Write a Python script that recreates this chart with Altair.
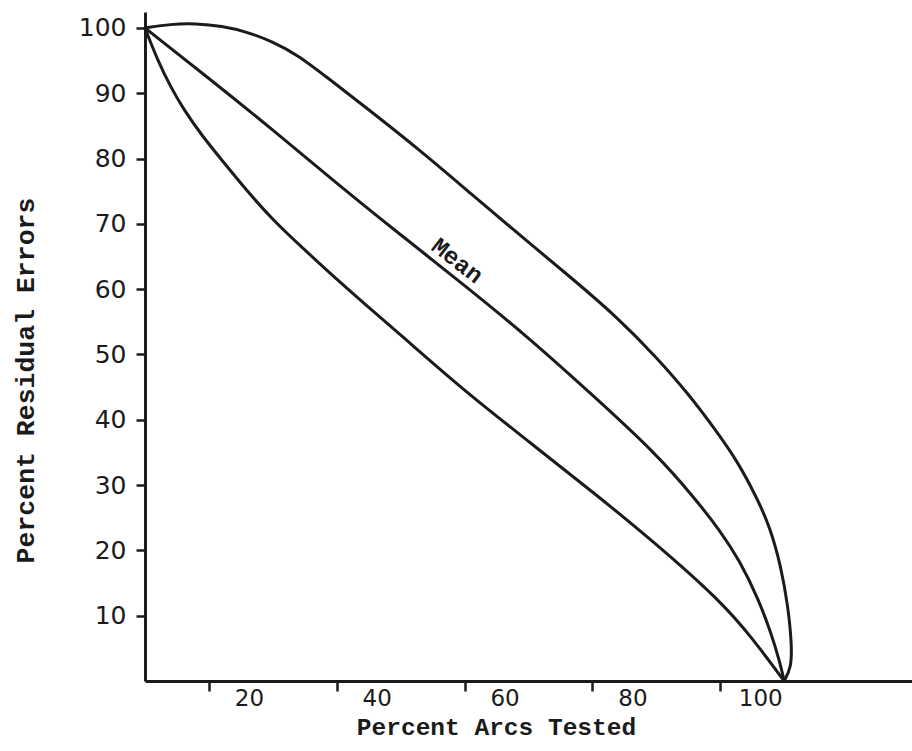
import altair as alt
import pandas as pd

# ---- data ----
x_tick_values = [10, 30, 50, 70, 90]
y_tick_values = [10, 20, 30, 40, 50, 60, 70, 80, 90, 100]

upper_x = [0, 4, 8, 12, 16, 20, 24, 28, 35, 43.5, 51, 59, 67, 74, 80, 85, 89, 92.6, 95.5, 97.8, 99.5, 100.6, 101.2, 101.1, 100]
upper_y = [100, 100.6, 100.7, 100.3, 99.4, 97.9, 95.8, 92.8, 87.5, 80.9, 74.6, 68.0, 61.5, 55.6, 49.6, 44.0, 38.8, 33.8, 28.5, 23.6, 17.5, 11.5, 5.5, 2.0, 0]

mean_x = [0, 10, 20, 30, 40, 50, 60, 70, 80, 86, 90, 93, 96, 98, 99.3, 100]
mean_y = [100, 92.3, 84.4, 76.2, 68.3, 60.6, 52.6, 43.8, 34.8, 28.0, 23.0, 18.5, 12.5, 7.2, 3.0, 0]

lower_x = [0, 2, 4, 6, 9, 12, 16, 20, 25, 30, 35, 40, 50, 60, 70, 80, 90, 95, 100]
lower_y = [100, 95.0, 91.0, 87.6, 83.4, 79.8, 75.0, 70.6, 66.0, 61.5, 57.2, 53.0, 44.4, 36.7, 29.0, 21.0, 12.3, 6.6, 0]

label_text = ["Mean"]
label_x = [48.8]
label_y = [64.3]

rows = []
for name, xs, ys in [("upper", upper_x, upper_y), ("mean", mean_x, mean_y), ("lower", lower_x, lower_y)]:
    for i, (a, b) in enumerate(zip(xs, ys)):
        rows.append({"series": name, "order": i, "x": a, "y": b})
df = pd.DataFrame(rows)
labels = pd.DataFrame({"text": label_text, "x": label_x, "y": label_y})

INK = "#1b1b1b"
MONO = "Liberation Mono"
SANS = "DejaVu Sans"

x_scale = alt.Scale(domain=[0, 120], nice=False, zero=False)
y_scale = alt.Scale(domain=[0, 102.45], nice=False, zero=False)

x_axis = alt.Axis(
    values=x_tick_values,
    labelExpr="'' + (datum.value + 10)",
    labelOffset=40,
    labelPadding=-4,
    labelFont=SANS,
    labelFontSize=23,
    labelColor=INK,
    tickSize=10,
    tickWidth=2.5,
    tickColor=INK,
    domainColor=INK,
    domainWidth=3,
    grid=False,
    title="Percent Arcs Tested",
    titleFont=MONO,
    titleFontSize=24.5,
    titleFontWeight="bold",
    titleColor=INK,
    titleX=351,
    titleY=53,
    titleBaseline="alphabetic",
)

y_axis = alt.Axis(
    values=y_tick_values,
    labelFont=SANS,
    labelFontSize=25,
    labelColor=INK,
    labelPadding=10,
    tickSize=9,
    tickWidth=2.5,
    tickColor=INK,
    domainColor=INK,
    domainWidth=3,
    grid=False,
    title="Percent Residual Errors",
    titleFont=MONO,
    titleFontSize=26.5,
    titleFontWeight="bold",
    titleColor=INK,
    titleAngle=270,
    titleX=-112,
    titleY=368,
    titleBaseline="alphabetic",
    titleAlign="center",
)

lines = alt.Chart(df).mark_line(
    interpolate="basis", strokeWidth=3, color=INK, strokeCap="round", strokeJoin="round"
).encode(
    x=alt.X("x:Q", scale=x_scale, axis=x_axis),
    y=alt.Y("y:Q", scale=y_scale, axis=y_axis),
    detail="series:N",
    order="order:Q",
)

mean_label = alt.Chart(labels).mark_text(
    angle=38, font=MONO, fontSize=24, fontWeight="bold", color=INK, align="center", baseline="middle"
).encode(
    x=alt.X("x:Q", scale=x_scale),
    y=alt.Y("y:Q", scale=y_scale),
    text="text:N",
)

chart = (
    alt.layer(lines, mean_label)
    .properties(
        width=767,
        height=669,
        padding={"left": 145, "top": 12, "right": 0, "bottom": 70},
        autosize=alt.AutoSizeParams(type="none"),
        background="white",
    )
    .configure_view(strokeWidth=0)
)

chart.save("out.html", embed_options={"renderer": "svg", "actions": False})
